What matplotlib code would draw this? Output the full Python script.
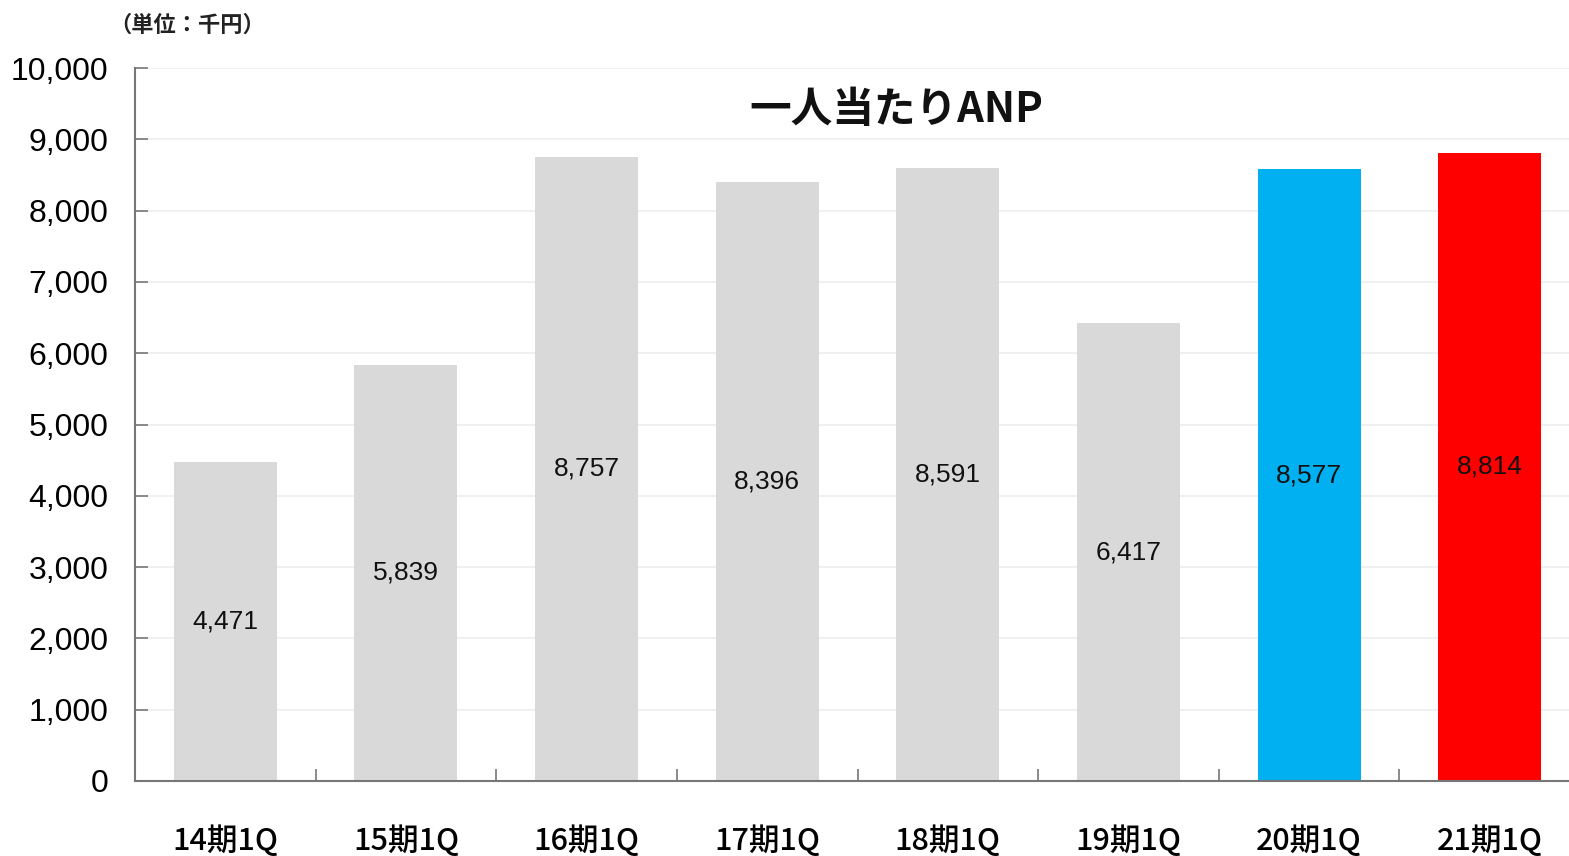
import matplotlib
matplotlib.use("Agg")
import matplotlib.pyplot as plt
from matplotlib.ticker import FuncFormatter, FixedLocator

plt.rcParams['font.family'] = ['Noto Sans CJK JP', 'DejaVu Sans']

categories = ["14期1Q", "15期1Q", "16期1Q", "17期1Q", "18期1Q", "19期1Q", "20期1Q", "21期1Q"]
values = [4471, 5839, 8757, 8396, 8591, 6417, 8577, 8814]
colors = ["#d9d9d9"] * 6 + ["#00b0f0", "#ff0000"]
y_ticks = list(range(0, 10001, 1000))
title = "一人当たりANP"
unit_label = "（単位：千円）"

W, H = 1569, 856
fig = plt.figure(figsize=(W / 100, H / 100), dpi=100)
ax = fig.add_axes([135 / W, 1 - 781 / H, (1580 - 135) / W, (781 - 68) / H])

x = list(range(len(categories)))
ax.bar(x, values, width=0.57, color=colors, zorder=2)

for xi, v in zip(x, values):
    ax.text(xi, v / 2, f"{v:,}", ha="center", va="center", fontsize=19,
            family=["Liberation Sans Narrow", "Liberation Sans", "DejaVu Sans"], color="#111111", zorder=3)

ax.set_xlim(-0.5, len(categories) - 0.5)
ax.set_ylim(0, 10000)
ax.set_yticks(y_ticks)
ax.yaxis.set_major_formatter(FuncFormatter(lambda v, p: f"{int(v):,}"))
ax.grid(axis="y", color="#eeeeee", linewidth=1.2, zorder=0)
ax.set_axisbelow(True)

ax.set_xticks(x)
ax.set_xticklabels(categories, fontsize=22, fontweight="medium")
ax.tick_params(axis="x", which="major", length=0, pad=32)
ax.xaxis.set_minor_locator(FixedLocator([i + 0.5 for i in range(len(categories))]))
ax.tick_params(axis="x", which="minor", direction="in", length=9, width=1.2, color="#777777")
ax.tick_params(axis="y", direction="in", length=9, width=1.2, color="#777777", pad=19)
for lab in ax.get_yticklabels():
    lab.set_fontsize(23)
    lab.set_family(["Liberation Sans", "DejaVu Sans"])

for s in ["top", "right"]:
    ax.spines[s].set_visible(False)
for s in ["left", "bottom"]:
    ax.spines[s].set_color("#777777")
    ax.spines[s].set_linewidth(1.5)

ax.text(0.527, 0.941, title, transform=ax.transAxes, ha="center", va="center",
        fontsize=30, fontweight="bold", color="#111111")
fig.text(187 / W, 1 - 25 / H, unit_label, ha="center", va="center", fontsize=16,
         fontweight="bold", color="#222222")

fig.savefig("out.png", dpi=100)
